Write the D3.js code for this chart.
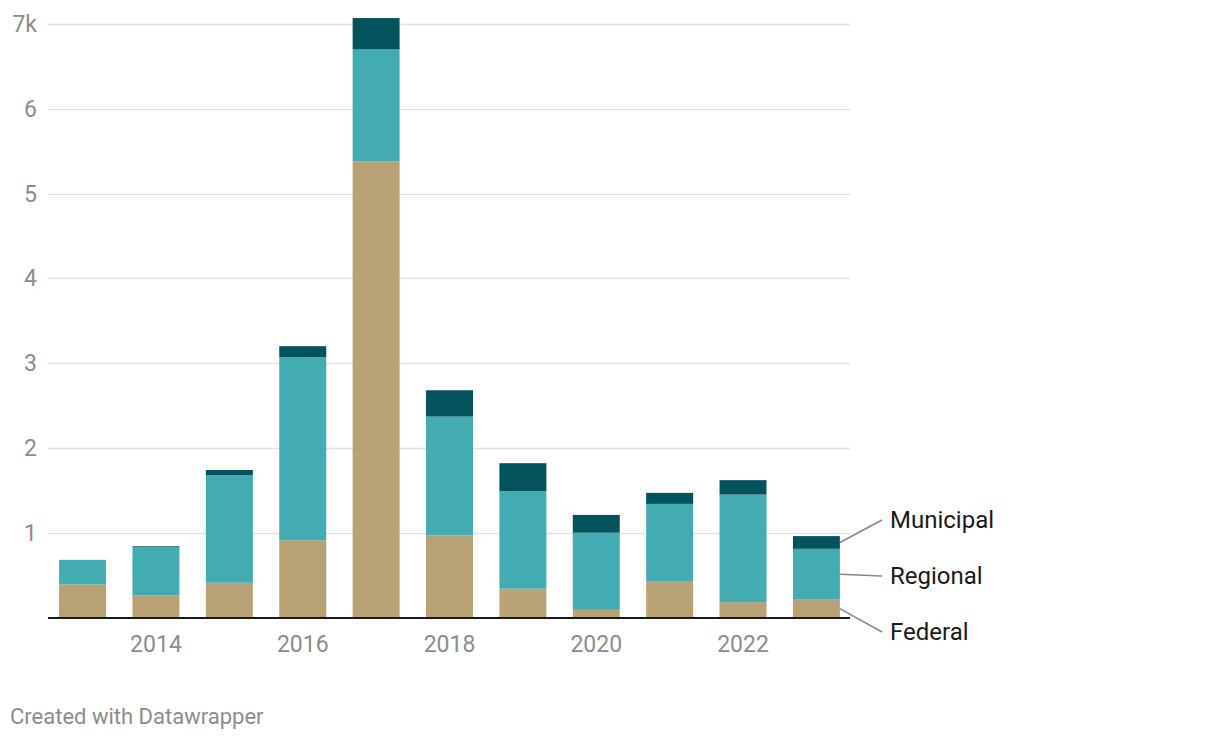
<!DOCTYPE html>
<html>
<head>
<meta charset="utf-8">
<script src="https://cdn.jsdelivr.net/npm/d3@7/dist/d3.min.js"></script>
<style>
  html, body { margin: 0; padding: 0; background: #fff; }
  svg { display: block; font-family: Roboto, "Noto Sans", sans-serif; }
</style>
</head>
<body>
<svg id="chart" width="1220" height="742"></svg>
<script>
const years = [2013, 2014, 2015, 2016, 2017, 2018, 2019, 2020, 2021, 2022, 2023];
const federal   = [0.39, 0.26, 0.41, 0.91, 5.38, 0.97, 0.34, 0.09, 0.43, 0.18, 0.21];
const regional  = [0.29, 0.57, 1.27, 2.16, 1.32, 1.40, 1.15, 0.91, 0.91, 1.27, 0.60];
const municipal = [0.00, 0.01, 0.06, 0.13, 0.37, 0.31, 0.33, 0.21, 0.13, 0.17, 0.15];
const seriesNames = ["Federal", "Regional", "Municipal"];
const seriesColors = ["#b8a175", "#42acb2", "#02535b"];
const yTicks = [1, 2, 3, 4, 5, 6, 7];
const xTickYears = [2014, 2016, 2018, 2020, 2022];

(function () {
const rows = years.map((y, i) => ({ year: y, Federal: federal[i], Regional: regional[i], Municipal: municipal[i] }));
const stack = d3.stack().keys(seriesNames)(rows);

const svg = d3.select("#chart");
const mLeft = 48, mRight = 850, mTop = 24, mBottom = 617.5;

const x = d3.scaleBand().domain(years).range([47, 852]).paddingInner(0.36).paddingOuter(0.165);
const y = d3.scaleLinear().domain([0, 7]).range([mBottom, mTop]);

// grid lines
svg.append("g").selectAll("line").data(yTicks).join("line")
  .attr("x1", mLeft).attr("x2", mRight)
  .attr("y1", d => Math.round(y(d)) + 0.5).attr("y2", d => Math.round(y(d)) + 0.5)
  .attr("stroke", "#e3e3e3").attr("stroke-width", 1.5);

// y labels
svg.append("g").selectAll("text").data(yTicks).join("text")
  .attr("x", 37).attr("y", d => y(d))
  .attr("dy", "0.35em")
  .attr("text-anchor", "end")
  .attr("fill", "#8c8c8c")
  .attr("font-size", 23)
  .text(d => d === 7 ? "7k" : d);

// bars
svg.append("g").selectAll("g").data(stack).join("g")
  .attr("fill", (d, i) => seriesColors[i])
  .selectAll("rect").data(d => d).join("rect")
  .attr("x", d => x(d.data.year))
  .attr("width", x.bandwidth())
  .attr("y", d => y(d[1]))
  .attr("height", d => Math.max(0, y(d[0]) - y(d[1])));

// baseline
svg.append("line")
  .attr("x1", mLeft).attr("x2", mRight)
  .attr("y1", mBottom + 0.5).attr("y2", mBottom + 0.5)
  .attr("stroke", "#1a1a1a").attr("stroke-width", 2);

// x labels
svg.append("g").selectAll("text").data(xTickYears).join("text")
  .attr("x", d => x(d) + x.bandwidth() / 2)
  .attr("y", 652)
  .attr("text-anchor", "middle")
  .attr("fill", "#8c8c8c")
  .attr("font-size", 23)
  .text(d => d);

// direct labels for last bar
const lastIdx = years.length - 1;
const barRight = x(years[lastIdx]) + x.bandwidth();
const labelX = 890;
const labelYs = { Federal: 632, Regional: 576, Municipal: 520 };
stack.forEach((s, i) => {
  const d = s[lastIdx];
  const mid = y((d[0] + d[1]) / 2);
  const ly = labelYs[s.key];
  svg.append("line")
    .attr("x1", barRight).attr("y1", mid)
    .attr("x2", labelX - 8).attr("y2", ly)
    .attr("stroke", "#888").attr("stroke-width", 1.5);
  svg.append("text")
    .attr("x", labelX).attr("y", ly)
    .attr("dy", "0.35em")
    .attr("fill", "#1a1a1a")
    .attr("font-size", 24)
    .text(s.key);
});

// footer
svg.append("text")
  .attr("x", 10).attr("y", 724)
  .attr("fill", "#8c8c8c")
  .attr("font-size", 22)
  .text("Created with Datawrapper");
})();
</script>
</body>
</html>
